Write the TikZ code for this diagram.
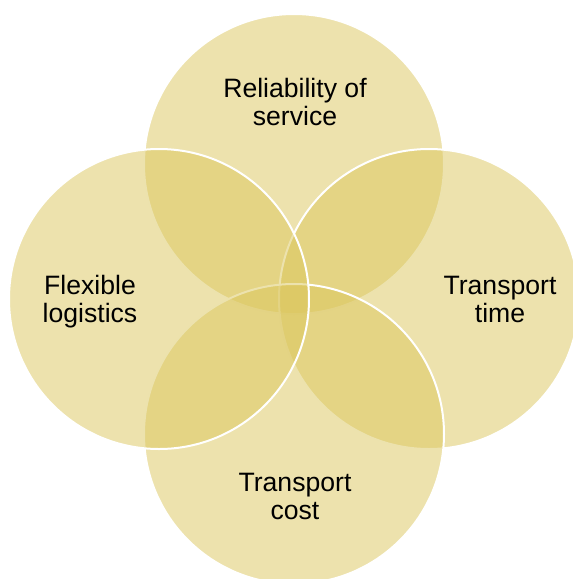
\documentclass[tikz,border=0pt]{standalone}
\usepackage{fontspec}
\setmainfont{Liberation Sans}
\definecolor{venngold}{RGB}{219,198,92}

\begin{document}
\begin{tikzpicture}[x=0.5pt, y=-0.5pt,
    set/.style={fill=venngold, fill opacity=0.5, draw=white, line width=1pt},
    setname/.style={align=center, text=black, font=\fontsize{13.3}{14}\selectfont}]
  \useasboundingbox (0,0) rectangle (573,579);
  \clip (0,0) rectangle (573,579);
  % centres of the four sets
  \coordinate (rel) at (294,164); \coordinate (time) at (429,299);
  \coordinate (cost) at (294,434); \coordinate (flex) at (159,299);
  % drawn in this order so each fill shades the earlier outlines
  \draw[set] (rel) circle[radius=75pt];
  \draw[set] (time) circle[radius=75pt];
  \draw[set] (cost) circle[radius=75pt];
  \draw[set] (flex) circle[radius=75pt];
  \node[setname] (relname) at (295,102) {Reliability of\\service};
  \node[setname] (timename) at (500,299) {Transport\\time};
  \node[setname] (costname) at (295,496) {Transport\\cost};
  \node[setname] (flexname) at (90,302) {Flexible\\logistics};
\end{tikzpicture}
\end{document}
